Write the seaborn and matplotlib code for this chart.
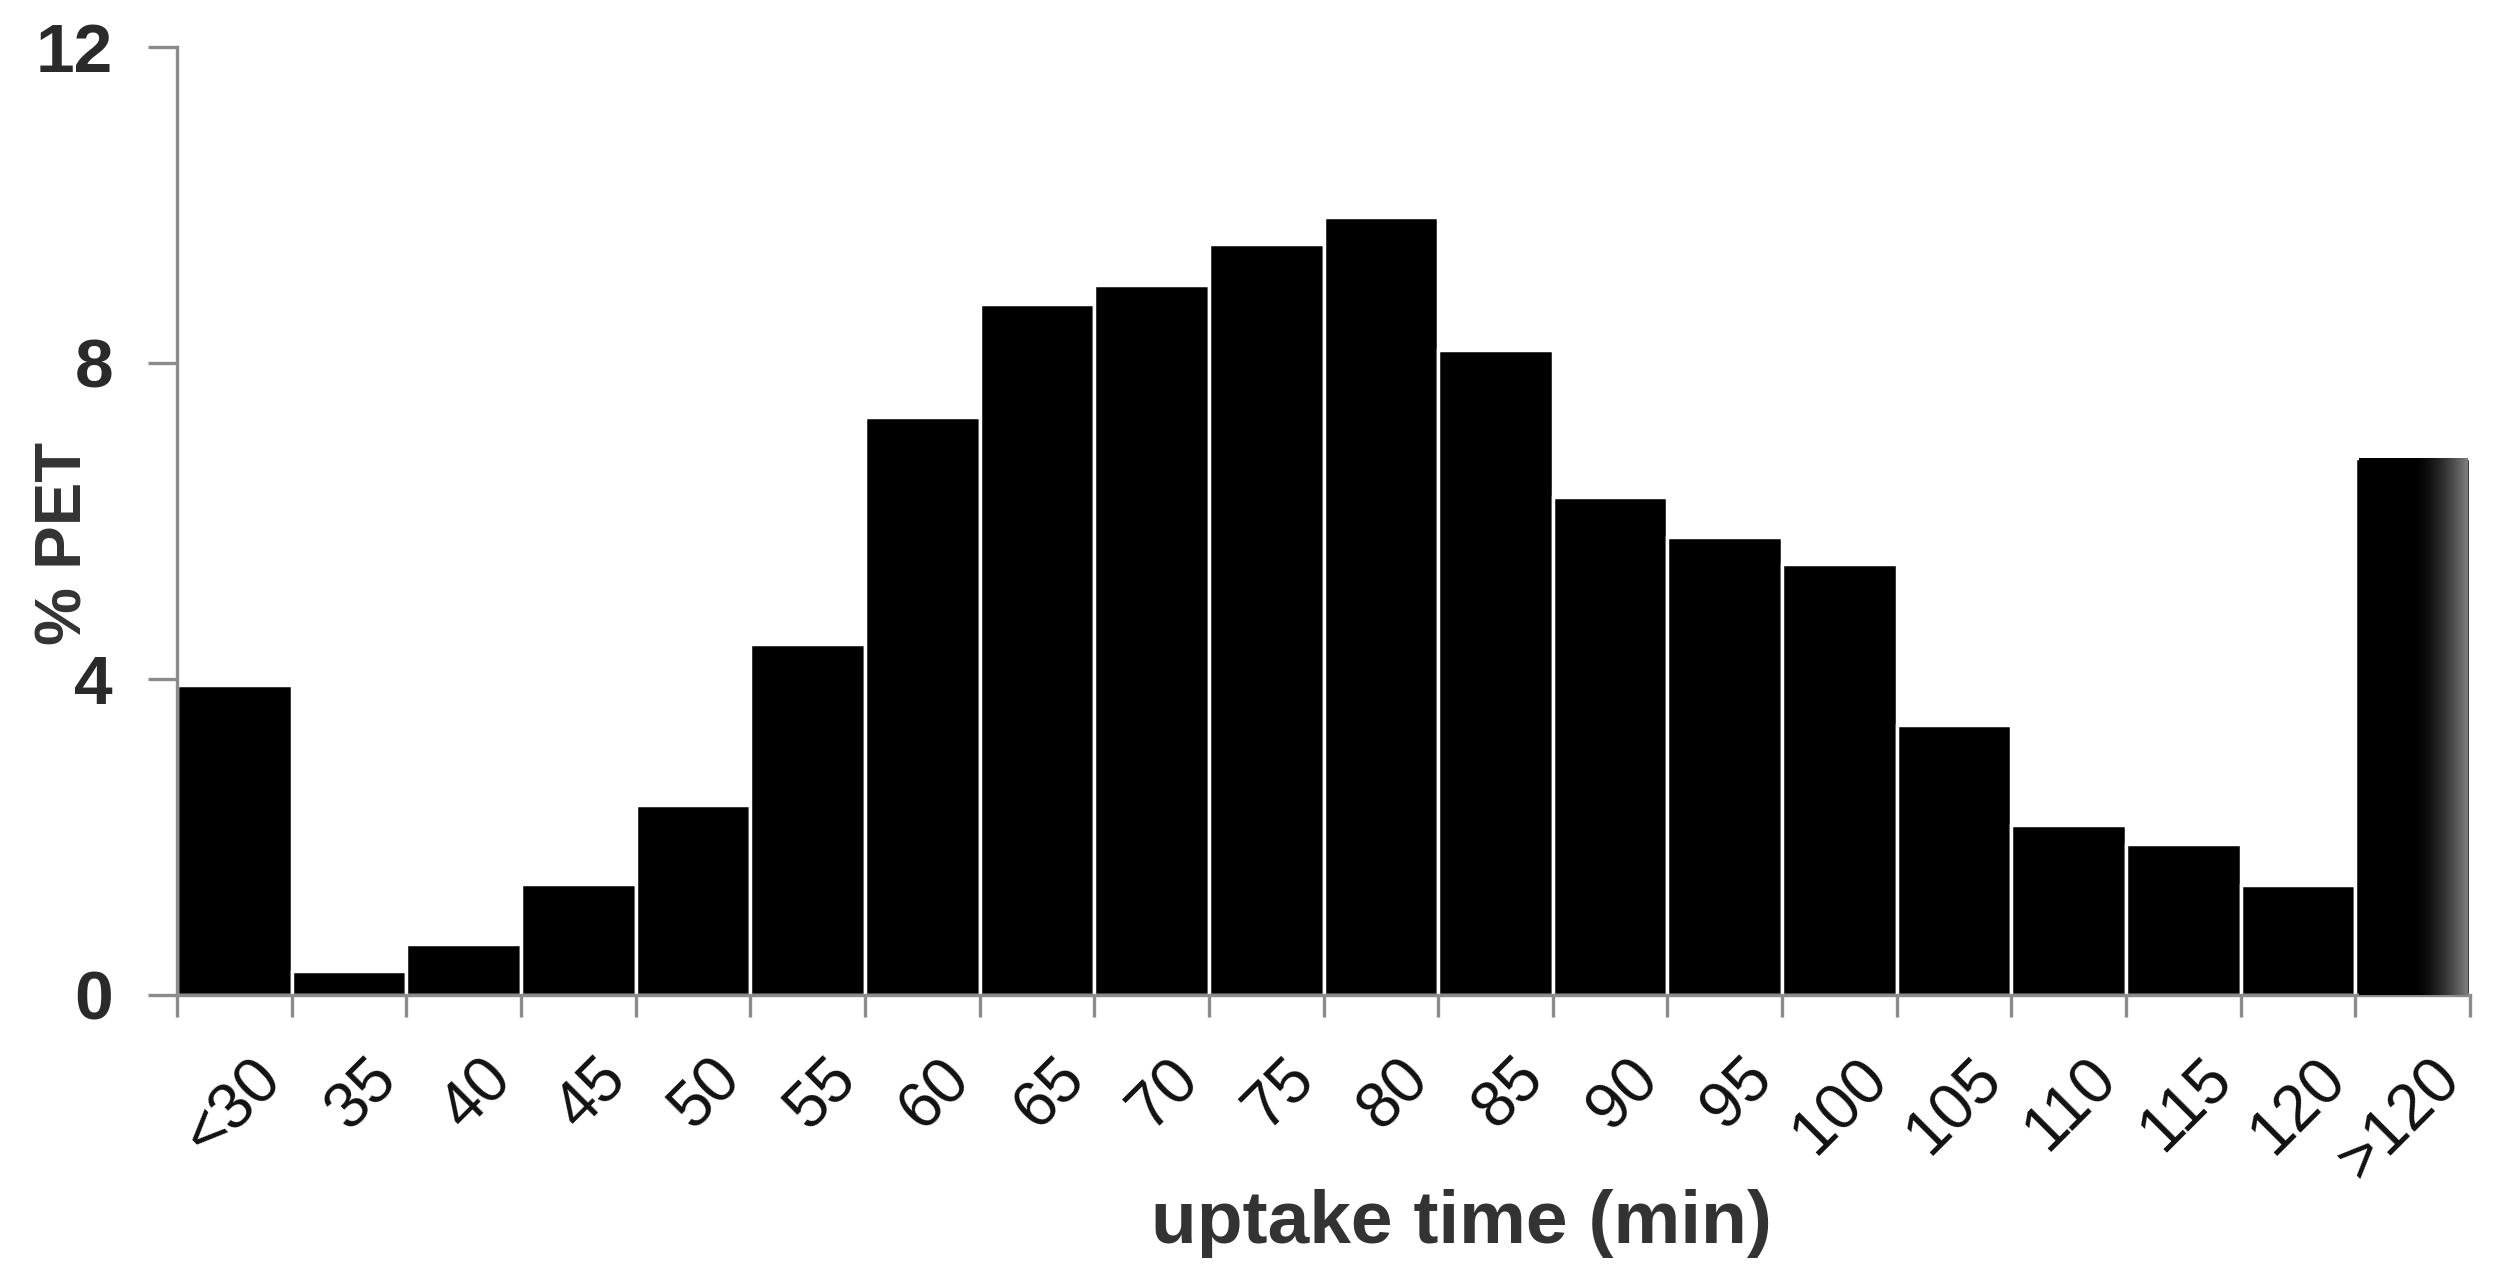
import numpy as np
import pandas as pd
import matplotlib
matplotlib.use("Agg")
import matplotlib.pyplot as plt
import matplotlib.transforms as mtransforms
import seaborn as sns

# data
categories = ['<30', '35', '40', '45', '50', '55', '60', '65', '70', '75',
              '80', '85', '90', '95', '100', '105', '110', '115', '120', '>120']
pct_pet = [3.92, 0.30, 0.64, 1.41, 2.41, 4.44, 7.31, 8.74, 8.99, 9.50,
           9.84, 8.16, 6.30, 5.79, 5.45, 3.42, 2.15, 1.91, 1.39, 6.79]
y_ticks = [0, 4, 8, 12]

df = pd.DataFrame({'uptake': categories, 'pct': pct_pet})

sns.set_style("white")
plt.rcParams['font.family'] = ['Liberation Sans', 'DejaVu Sans']

AXIS_GREY = '#8c8c8c'

fig = plt.figure(figsize=(25, 12.87), dpi=100)
ax = fig.add_axes([0.0708, 0.2269, 0.9172, 0.7368])

sns.barplot(data=df, x='uptake', y='pct', order=categories, color='black',
            width=1.0, edgecolor='white', linewidth=2.5, saturation=1, ax=ax)

# fade on the right edge of the last bar (as in the scanned original)
last = ax.patches[-1]
x0, w, h = last.get_x(), last.get_width(), last.get_height()
t = np.linspace(0, 1, 256)
grad = np.clip((t - 0.5) / 0.5, 0, 1) ** 1.6 * 0.5
ax.imshow(grad[np.newaxis, :], extent=[x0 + 0.03, x0 + w - 0.02, 0, h], aspect='auto',
          cmap='gray', vmin=0, vmax=1, zorder=3, interpolation='bilinear')

ax.set_xlim(-0.5, len(categories) - 0.5)
ax.set_ylim(0, 12)
ax.set_yticks(y_ticks)

for s in ['top', 'right']:
    ax.spines[s].set_visible(False)
for s in ['left', 'bottom']:
    ax.spines[s].set_color(AXIS_GREY)
    ax.spines[s].set_linewidth(2.4)

# tick marks sit between the bars, labels centered under them
ax.set_xticks(np.arange(len(categories) + 1) - 0.5, minor=True)
ax.tick_params(axis='x', which='major', bottom=True, length=0, pad=38)
ax.tick_params(axis='x', which='minor', bottom=True, direction='out',
               length=16, width=2.4, color=AXIS_GREY)
ax.tick_params(axis='y', left=True, direction='out', length=21, width=2.4,
               color=AXIS_GREY, pad=25)

ax.set_xticklabels(categories, rotation=45, ha='right', rotation_mode='anchor',
                   fontsize=46, color='#111111')
shift = mtransforms.ScaledTranslation(0.17, 0, fig.dpi_scale_trans)
for lbl in ax.get_xticklabels():
    lbl.set_transform(lbl.get_transform() + shift)
for lbl in ax.get_yticklabels():
    lbl.set_fontsize(50)
    lbl.set_fontweight('bold')
    lbl.set_color('#2a2a2a')

ax.set_ylabel('% PET', fontsize=47, fontweight='bold', color='#333333')
ax.yaxis.set_label_coords(-0.036, 0.476)
ax.set_xlabel('uptake time (min)', fontsize=54, fontweight='bold', color='#333333')
ax.xaxis.set_label_coords(0.560, -0.205)

fig.savefig('out.png', dpi=100, facecolor='white')
